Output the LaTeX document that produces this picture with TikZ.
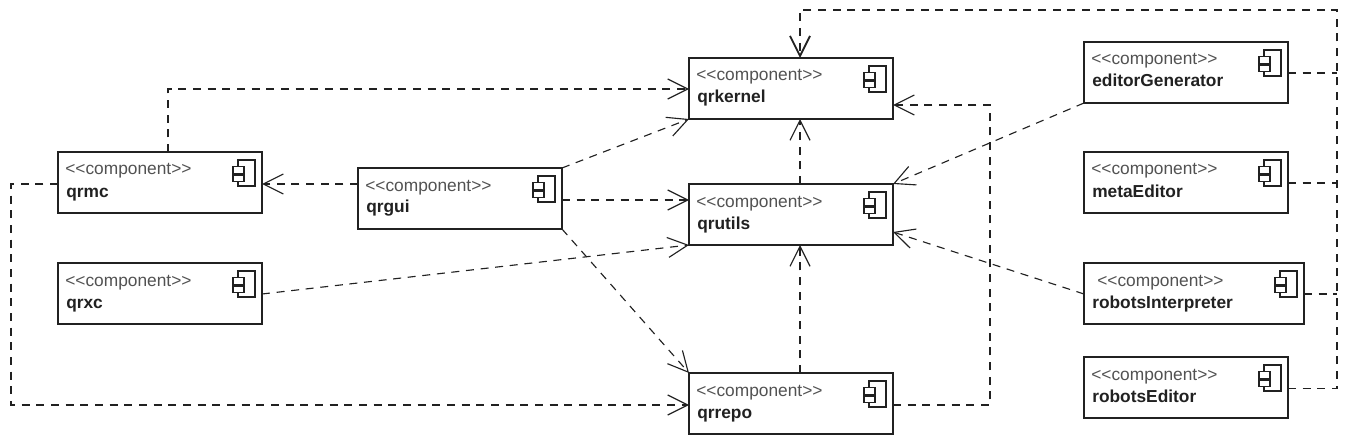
\documentclass[tikz,border=0pt]{standalone}
\usepackage{fontspec}
\setmainfont{Liberation Sans}
\usetikzlibrary{arrows.meta,calc}
\definecolor{ink}{gray}{0.13}
\tikzset{
  x=0.75pt,y=-0.75pt,
  comp/.style={draw=ink,line width=1.1pt,fill=white,rectangle,minimum height=45.75pt,inner sep=0pt,outer sep=0pt,anchor=north west},
  cw/.style={minimum width=153pt},
  stereo/.style={font=\fontsize{13}{15}\selectfont,text=black!68,anchor=base west,inner sep=0pt},
  cname/.style={font=\fontsize{13}{15}\selectfont\bfseries,text=ink,anchor=base west,inner sep=0pt},
  dep/.style={draw=ink,line width=0.85pt,dash pattern=on 6pt off 5pt,-{Straight Barb[length=15pt,width=15pt,line width=0.85pt]}},
  depbig/.style={draw=ink,line width=0.85pt,dash pattern=on 6pt off 5pt,-{Straight Barb[length=15pt,width=15pt,line width=1.4pt]}},
  plain/.style={draw=ink,line width=0.85pt,dash pattern=on 6pt off 5pt},
  icon/.style={draw=ink,line width=0.8pt,fill=white}
}
\newcommand{\comp}[5][cw]{%
  \node[comp,#1] (#2) at (#3) {};
  \node[stereo] (#2s) at ($(#2.north west)+(#4,23)$) {<{}<{}component>{}>};
  \node[cname] (#2n) at ($(#2.north west)+(8,45)$) {#5};
  \draw[icon] ($(#2.north east)+(-24,8)$) rectangle ($(#2.north east)+(-7,34)$);
  \draw[icon] ($(#2.north east)+(-29,14.5)$) rectangle ($(#2.north east)+(-18,22)$);
  \draw[icon] ($(#2.north east)+(-29,23)$) rectangle ($(#2.north east)+(-18,29.5)$);
}
\begin{document}
\begin{tikzpicture}
\useasboundingbox (0,0) rectangle (1349,442);
\comp{qrkernel}{689,58}{7}{qrkernel}
\comp{qrutils}{689,184}{7}{qrutils}
\comp{qrrepo}{689,373}{7}{qrrepo}
\comp{qrmc}{58,152}{7}{qrmc}
\comp{qrxc}{58,263}{7}{qrxc}
\comp{qrgui}{358,168}{7}{qrgui}
\comp{editorGenerator}{1084,42}{7}{editorGenerator}
\comp{metaEditor}{1084,152}{7}{metaEditor}
\comp[minimum width=165pt]{robotsInterpreter}{1084,263}{13}{robotsInterpreter}
\comp{robotsEditor}{1084,357}{7}{robotsEditor}
% ports
\coordinate (busTop) at (1337,10);
\coordinate (busLeft) at (800,10);
\coordinate (leftRail) at (11,184);
\coordinate (repoRail) at (990,405);
\coordinate (mcN) at ($(qrmc.north)+(8,0)$);
\coordinate (mcW) at ($(qrmc.west)+(0,1.5)$);
\coordinate (mcE) at ($(qrmc.east)+(0,1.5)$);
\coordinate (xcE) at ($(qrxc.east)+(0,0.5)$);
\coordinate (guiW) at ($(qrgui.west)+(0,-14.5)$);
\coordinate (guiE) at ($(qrgui.east)+(0,1.5)$);
\coordinate (kerW) at ($(qrkernel.west)+(0,0.5)$);
\coordinate (kerE) at ($(qrkernel.east)+(0,16.5)$);
\coordinate (kerS) at ($(qrkernel.south)+(9,0)$);
\coordinate (kerN) at ($(qrkernel.north)+(9,0)$);
\coordinate (utW) at ($(qrutils.west)+(0,-14.5)$);
\coordinate (utE) at ($(qrutils.east)+(0,17.5)$);
\coordinate (utN) at ($(qrutils.north)+(9,0)$);
\coordinate (utS) at ($(qrutils.south)+(9,0)$);
\coordinate (repoW) at ($(qrrepo.west)+(0,1.5)$);
\coordinate (repoE) at ($(qrrepo.east)+(0,1.5)$);
\coordinate (repoN) at ($(qrrepo.north)+(9,0)$);
\coordinate (egE) at ($(editorGenerator.east)+(0,0.5)$);
\coordinate (meE) at ($(metaEditor.east)+(0,0.5)$);
\coordinate (riE) at ($(robotsInterpreter.east)+(0,0.5)$);
\coordinate (riW) at ($(robotsInterpreter.west)+(0,0.5)$);
\coordinate (reE) at ($(robotsEditor.east)+(0,1)$);
% connectors
\draw[dep] (mcN) |- (kerW);
\draw[dep] (mcW) -- (leftRail) |- (repoW);
\draw[dep] (guiW) -- (mcE);
\draw[dep] (qrgui.north east) -- (qrkernel.south west);
\draw[dep] (guiE) -- (utW);
\draw[dep] (qrgui.south east) -- (qrrepo.north west);
\draw[dep] (xcE) -- (qrutils.south west);
\draw[dep] (utN) -- (kerS);
\draw[dep] (repoN) -- (utS);
\draw[dep] (repoE) -- (repoRail) |- (kerE);
\draw[dep] (editorGenerator.south west) -- (qrutils.north east);
\draw[dep] (riW) -- (utE);
\draw[plain] (egE) -- (egE -| busTop);
\draw[plain] (meE) -- (meE -| busTop);
\draw[plain] (riE) -- (riE -| busTop);
\draw[depbig] (reE) -- (reE -| busTop) -- (busTop) -- (busLeft) -- (kerN);
\end{tikzpicture}
\end{document}
